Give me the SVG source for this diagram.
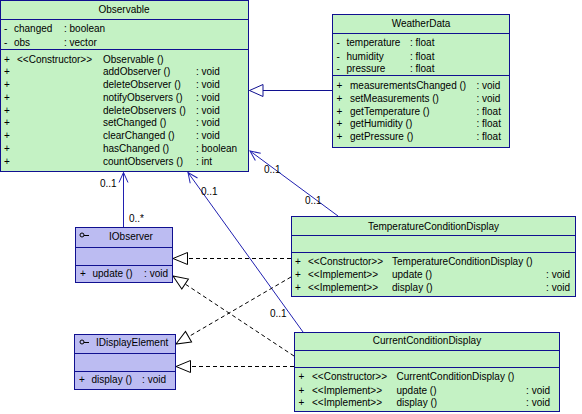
<svg xmlns="http://www.w3.org/2000/svg" width="582" height="414" viewBox="0 0 582 414">
<style>
text{font-family:"Liberation Sans",Arial,sans-serif;font-size:10px;fill:#000}
.t{text-anchor:middle}
.e{text-anchor:end}
.cls{fill:#c4f2c4;stroke:#101090;stroke-width:1}
.itf{fill:#bcbcf2;stroke:#101090;stroke-width:1}
.sep{stroke:#101090;stroke-width:1}
.assoc{stroke:#2020b0;stroke-width:1;fill:none}
.real{stroke:#000;stroke-width:1;stroke-dasharray:4,3;fill:none}
.gen{stroke:#101090;stroke-width:1;fill:none}
.ic{stroke:#000;stroke-width:1;fill:none}
</style>
<defs>
<marker id="open" markerUnits="userSpaceOnUse" markerWidth="14" markerHeight="12" refX="11" refY="6" orient="auto" overflow="visible">
<path d="M1,1.5 L11,6 L1,10.5" fill="none" stroke="#2020b0" stroke-width="1"/>
</marker>
<marker id="tri" markerUnits="userSpaceOnUse" markerWidth="16" markerHeight="14" refX="15" refY="7" orient="auto" overflow="visible">
<path d="M0.5,1 L15,7 L0.5,13 Z" fill="#fff" stroke="#000" stroke-width="1"/>
</marker>
<marker id="trib" markerUnits="userSpaceOnUse" markerWidth="16" markerHeight="14" refX="14" refY="7" orient="auto" overflow="visible">
<path d="M0.5,1 L14,7 L0.5,13 Z" fill="#fff" stroke="#101090" stroke-width="1"/>
</marker>
</defs>
<rect width="582" height="414" fill="#fff"/>

<g id="connectors">
<line class="gen" x1="332" y1="90.5" x2="249.5" y2="90.5" marker-end="url(#trib)"/>
<line class="assoc" x1="123.5" y1="227" x2="123.5" y2="172.5" marker-end="url(#open)"/>
<line class="assoc" x1="303" y1="332" x2="188" y2="172.5" marker-end="url(#open)"/>
<line class="assoc" x1="338" y1="216" x2="250" y2="151" marker-end="url(#open)"/>
<line class="real" x1="291" y1="258.5" x2="173" y2="258.5" marker-end="url(#tri)"/>
<line class="real" x1="291" y1="277" x2="176" y2="344" marker-end="url(#tri)"/>
<line class="real" x1="294" y1="356" x2="173" y2="276" marker-end="url(#tri)"/>
<line class="real" x1="294" y1="366.5" x2="176" y2="366.5" marker-end="url(#tri)"/>
<text x="100" y="187">0..1</text>
<text x="129" y="222">0..*</text>
<text x="201" y="195">0..1</text>
<text x="270" y="317">0..1</text>
<text x="264" y="173">0..1</text>
<text x="305" y="203.5">0..1</text>
</g>

<g id="Observable">
<rect class="cls" x="0.5" y="0.5" width="248" height="171"/>
<line class="sep" x1="0.5" y1="19.5" x2="248.5" y2="19.5"/>
<line class="sep" x1="0.5" y1="49.5" x2="248.5" y2="49.5"/>
<text class="t" x="124" y="13">Observable</text>
<text x="4" y="32">-</text><text x="14" y="32">changed</text><text x="64" y="32">: boolean</text>
<text x="4" y="45.5">-</text><text x="14" y="45.5">obs</text><text x="64" y="45.5">: vector</text>
<text x="4" y="62.5">+</text><text x="17" y="62.5">&lt;&lt;Constructor&gt;&gt;</text><text x="103" y="62.5">Observable ()</text>
<text x="4" y="75">+</text><text x="103" y="75">addObserver ()</text><text x="196" y="75">: void</text>
<text x="4" y="88">+</text><text x="103" y="88">deleteObserver ()</text><text x="196" y="88">: void</text>
<text x="4" y="101">+</text><text x="103" y="101">notifyObservers ()</text><text x="196" y="101">: void</text>
<text x="4" y="113.5">+</text><text x="103" y="113.5">deleteObservers ()</text><text x="196" y="113.5">: void</text>
<text x="4" y="126">+</text><text x="103" y="126">setChanged ()</text><text x="196" y="126">: void</text>
<text x="4" y="139">+</text><text x="103" y="139">clearChanged ()</text><text x="196" y="139">: void</text>
<text x="4" y="152">+</text><text x="103" y="152">hasChanged ()</text><text x="196" y="152">: boolean</text>
<text x="4" y="165">+</text><text x="103" y="165">countObservers ()</text><text x="196" y="165">: int</text>
</g>

<g id="WeatherData">
<rect class="cls" x="332.5" y="14.5" width="177" height="133"/>
<line class="sep" x1="332.5" y1="33.5" x2="509.5" y2="33.5"/>
<line class="sep" x1="332.5" y1="75.5" x2="509.5" y2="75.5"/>
<text class="t" x="421" y="27">WeatherData</text>
<text x="336.5" y="46">-</text><text x="346.5" y="46">temperature</text><text x="410" y="46">: float</text>
<text x="336.5" y="59.5">-</text><text x="346.5" y="59.5">humidity</text><text x="410" y="59.5">: float</text>
<text x="336.5" y="72">-</text><text x="346.5" y="72">pressure</text><text x="410" y="72">: float</text>
<text x="336.5" y="89">+</text><text x="350" y="89">measurementsChanged ()</text><text x="476.5" y="89">: void</text>
<text x="336.5" y="102">+</text><text x="350" y="102">setMeasurements ()</text><text x="476.5" y="102">: void</text>
<text x="336.5" y="115">+</text><text x="350" y="115">getTemperature ()</text><text x="476.5" y="115">: float</text>
<text x="336.5" y="127">+</text><text x="350" y="127">getHumidity ()</text><text x="476.5" y="127">: float</text>
<text x="336.5" y="140">+</text><text x="350" y="140">getPressure ()</text><text x="476.5" y="140">: float</text>
</g>

<g id="IObserver">
<rect class="itf" x="75.5" y="227.5" width="97" height="55"/>
<line class="sep" x1="75.5" y1="247.5" x2="172.5" y2="247.5"/>
<line class="sep" x1="75.5" y1="265.5" x2="172.5" y2="265.5"/>
<circle class="ic" cx="82" cy="235" r="2"/><line class="ic" x1="84" y1="235.5" x2="89" y2="235.5"/>
<text class="t" x="131" y="240">IObserver</text>
<text x="80" y="277">+</text><text x="92.5" y="277">update ()</text><text class="e" x="168" y="277">: void</text>
</g>

<g id="IDisplayElement">
<rect class="itf" x="74.5" y="334.5" width="101" height="55"/>
<line class="sep" x1="74.5" y1="353.5" x2="175.5" y2="353.5"/>
<line class="sep" x1="74.5" y1="371.5" x2="175.5" y2="371.5"/>
<circle class="ic" cx="82" cy="342" r="2"/><line class="ic" x1="84" y1="342.5" x2="89" y2="342.5"/>
<text x="96" y="346">IDisplayElement</text>
<text x="79" y="383">+</text><text x="91.5" y="383">display ()</text><text class="e" x="166" y="383">: void</text>
</g>

<g id="TemperatureConditionDisplay">
<rect class="cls" x="291.5" y="216.5" width="284" height="80"/>
<line class="sep" x1="291.5" y1="235.5" x2="575.5" y2="235.5"/>
<line class="sep" x1="291.5" y1="252.5" x2="575.5" y2="252.5"/>
<text class="t" x="433.5" y="229.5">TemperatureConditionDisplay</text>
<text x="295" y="265">+</text><text x="308" y="265">&lt;&lt;Constructor&gt;&gt;</text><text x="392" y="265">TemperatureConditionDisplay ()</text>
<text x="295" y="278">+</text><text x="308" y="278">&lt;&lt;Implement&gt;&gt;</text><text x="392" y="278">update ()</text><text class="e" x="570" y="278">: void</text>
<text x="295" y="291">+</text><text x="308" y="291">&lt;&lt;Implement&gt;&gt;</text><text x="392" y="291">display ()</text><text class="e" x="570" y="291">: void</text>
</g>

<g id="CurrentConditionDisplay">
<rect class="cls" x="294.5" y="332.5" width="265" height="79"/>
<line class="sep" x1="294.5" y1="350.5" x2="559.5" y2="350.5"/>
<line class="sep" x1="294.5" y1="367.5" x2="559.5" y2="367.5"/>
<text class="t" x="427" y="344">CurrentConditionDisplay</text>
<text x="298.5" y="379.5">+</text><text x="312" y="379.5">&lt;&lt;Constructor&gt;&gt;</text><text x="396.5" y="379.5">CurrentConditionDisplay ()</text>
<text x="298.5" y="393.5">+</text><text x="312" y="393.5">&lt;&lt;Implement&gt;&gt;</text><text x="396.5" y="393.5">update ()</text><text class="e" x="550" y="393.5">: void</text>
<text x="298.5" y="406">+</text><text x="312" y="406">&lt;&lt;Implement&gt;&gt;</text><text x="396.5" y="406">display ()</text><text class="e" x="550" y="406">: void</text>
</g>
</svg>
